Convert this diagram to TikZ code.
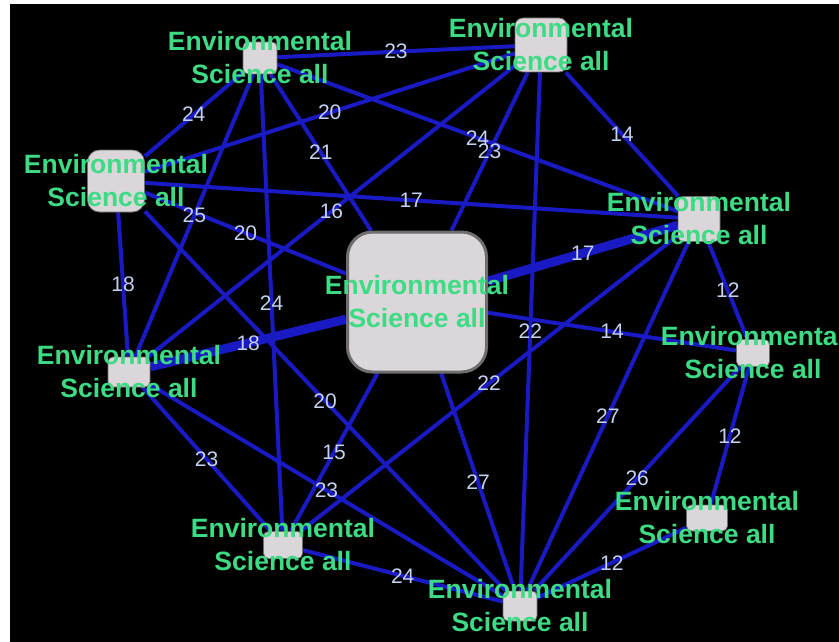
\documentclass[tikz,border=0pt]{standalone}
\usepackage{fontspec}
\setmainfont{Liberation Sans}
\usetikzlibrary{backgrounds}
\definecolor{EnvGreen}{HTML}{3DDC84}
\definecolor{EnvBlue}{HTML}{1A1AC4}
\definecolor{EnvGray}{HTML}{DAD6DA}
\definecolor{EnvRim}{HTML}{6E6E6E}
\definecolor{EnvLabel}{HTML}{C4D2F2}

\begin{document}
\begin{tikzpicture}[x=1pt,y=-1pt,
  envbox/.style={draw=EnvRim,line width=.8pt,fill=EnvGray,rounded corners=5pt,inner sep=0pt},
  envtext/.style={text=EnvGreen,font=\fontsize{26.5}{33}\selectfont\bfseries,align=center,inner sep=0pt},
  wt/.style={text=EnvLabel,font=\fontsize{21}{21}\selectfont,inner sep=0pt},
  envlink/.style={EnvBlue,line width=4pt},
  envheavy/.style={EnvBlue,line width=9pt}]
\useasboundingbox (0,0) rectangle (839,642);
% boxes
\node[envbox,minimum width=34pt,minimum height=32pt] (A) at (260,58) {};
\node[envbox,minimum width=52pt,minimum height=54pt,rounded corners=8pt] (B) at (541,45) {};
\node[envbox,minimum width=57pt,minimum height=62pt,rounded corners=12pt] (C) at (116,181) {};
\node[envbox,minimum width=42pt,minimum height=45pt] (D) at (699,219) {};
\node[envbox,minimum width=139pt,minimum height=140pt,rounded corners=25pt,line width=3pt] (E) at (417,302) {};
\node[envbox,minimum width=42pt,minimum height=30pt] (F) at (129,372) {};
\node[envbox,minimum width=33pt,minimum height=27pt] (G) at (753,353) {};
\node[envbox,minimum width=41pt,minimum height=26pt] (H) at (707,518) {};
\node[envbox,minimum width=39pt,minimum height=27pt] (I) at (283,545) {};
\node[envbox,minimum width=34pt,minimum height=30pt] (J) at (520,606) {};
\def\envedges{A/B/23/envlink,A/C/24/envlink,A/D/24/envlink,A/E/21/envlink,A/F/25/envlink,
  A/I/24/envlink,B/C/20/envlink,B/D/14/envlink,B/E/23/envlink,B/F/16/envlink,B/J/22/envlink,
  C/D/17/envlink,C/E/20/envlink,C/F/18/envlink,C/J/20/envlink,D/E/17/envheavy,D/G/12/envlink,
  D/J/27/envlink,D/I/22/envlink,E/F/18/envheavy,E/G/14/envlink,E/I/15/envlink,E/J/27/envlink,
  F/I/23/envlink,F/J/23/envlink,G/H/12/envlink,G/J/26/envlink,H/J/12/envlink,I/J/24/envlink}
\begin{scope}[on background layer]
\fill[white] (0,0) rectangle (839,642);
\fill[black] (10,4) rectangle (839,642);
\foreach \a/\b/\w/\s in \envedges {\draw[\s] (\a) -- (\b);}
\end{scope}
\foreach \a/\b/\w/\s in \envedges {\path (\a) -- node[wt] (w\a\b) {\w} (\b);}
% names
\foreach \n in {A,B,C,D,E,F,G,H,I,J} {\node[envtext] (t\n) at (\n) {Environmental\\Science all};}
\end{tikzpicture}
\end{document}
